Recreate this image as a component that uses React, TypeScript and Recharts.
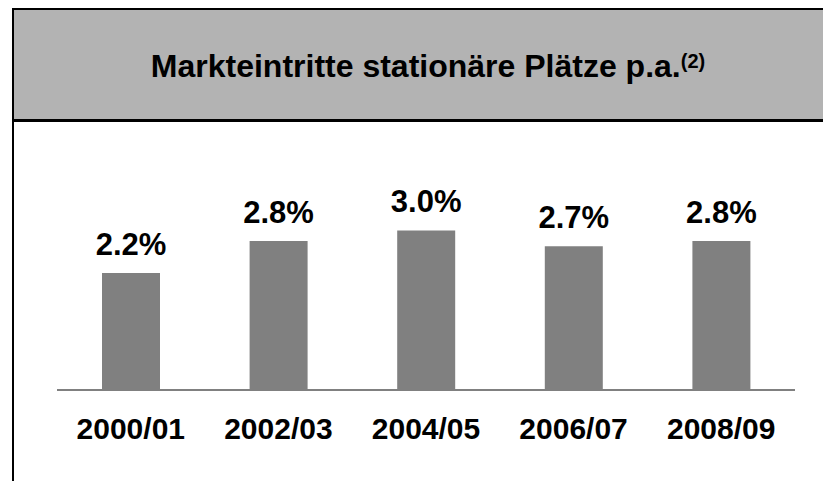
import React from "react";
import { BarChart, Bar, XAxis, YAxis, LabelList } from "recharts";

// Markteintritte stationäre Plätze p.a., in %
const periods = ["2000/01", "2002/03", "2004/05", "2006/07", "2008/09"];
const shares = [2.2, 2.8, 3.0, 2.7, 2.8];

const data = periods.map((period, i) => ({ period, share: shares[i] }));

const FONT = "'Liberation Sans', Arial, Helvetica, sans-serif";

export default function App() {
  return (
    <div
      style={{
        position: "relative",
        width: 823,
        height: 473,
        overflow: "hidden",
        fontFamily: FONT,
      }}
    >
      {/* left frame line, runs to the bottom */}
      <div
        style={{
          position: "absolute",
          left: 4,
          top: 0,
          width: 2,
          height: 473,
          background: "#000",
        }}
      />
      {/* grey header */}
      <div
        style={{
          position: "absolute",
          left: 4,
          top: 0,
          width: 828,
          height: 109,
          background: "#b3b3b3",
          borderTop: "2px solid #000",
          borderLeft: "2px solid #000",
          borderBottom: "3px solid #000",
          textAlign: "center",
          lineHeight: "113px",
          fontSize: 32,
          fontWeight: "bold",
          color: "#000",
          whiteSpace: "nowrap",
        }}
      >
        Markteintritte stationäre Plätze p.a.
        <span style={{ fontSize: 20, position: "relative", top: -9 }}>(2)</span>
      </div>

      <div style={{ position: "absolute", left: 0, top: 0 }}>
        <BarChart
          width={823}
          height={473}
          data={data}
          margin={{ top: 116, right: 36, bottom: 31, left: 49 }}
        >
          <XAxis
            dataKey="period"
            height={60}
            axisLine={{ stroke: "#808080", strokeWidth: 2 }}
            tickLine={false}
            tickSize={0}
            tickMargin={28}
            interval={0}
            tick={{
              fill: "#000",
              fontSize: 30,
              fontWeight: "bold",
              fontFamily: FONT,
            }}
          />
          <YAxis hide domain={[0, 5]} />
          <Bar
            dataKey="share"
            fill="#808080"
            barSize={58}
            isAnimationActive={false}
          >
            <LabelList
              dataKey="share"
              position="top"
              offset={18}
              formatter={(v: number) => `${Number(v).toFixed(1)}%`}
              style={{
                fill: "#000",
                fontSize: 31,
                fontWeight: "bold",
                fontFamily: FONT,
              }}
            />
          </Bar>
        </BarChart>
      </div>
    </div>
  );
}
